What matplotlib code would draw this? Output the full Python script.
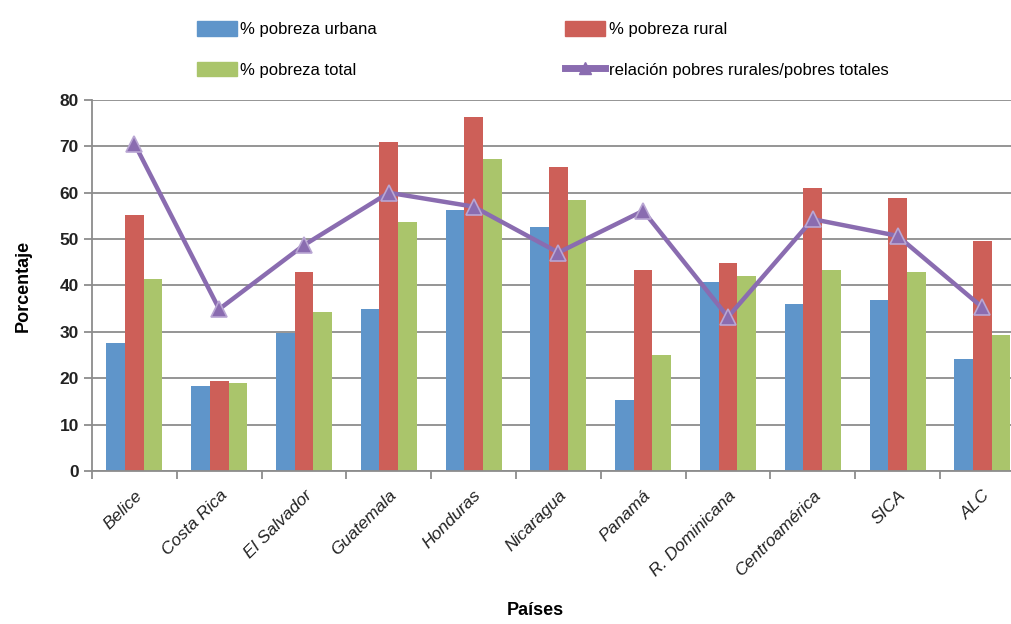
import numpy as np
import matplotlib.pyplot as plt
from matplotlib.patches import Patch
from matplotlib.lines import Line2D

# datos
paises = ["Belice", "Costa Rica", "El Salvador", "Guatemala", "Honduras",
          "Nicaragua", "Panamá", "R. Dominicana", "Centroamérica", "SICA", "ALC"]
urbana = [27.6, 18.4, 29.8, 35.0, 56.2, 52.7, 15.4, 40.8, 36.0, 36.9, 24.2]
rural = [55.3, 19.3, 43.0, 71.0, 76.4, 65.5, 43.4, 44.8, 61.0, 58.8, 49.5]
total = [41.3, 18.9, 34.2, 53.6, 67.3, 58.4, 25.1, 42.1, 43.4, 43.0, 29.4]
relacion = [70.6, 34.9, 48.7, 60.0, 57.0, 47.1, 56.1, 33.2, 54.3, 50.7, 35.3]

c_urb = "#5F95CA"
c_rur = "#CD5F58"
c_tot = "#AAC56B"
c_rel = "#8A6CB0"

plt.rcParams['font.family'] = ['Liberation Sans', 'DejaVu Sans']

fig = plt.figure(figsize=(10.11, 6.24), dpi=100)
ax = fig.add_axes([0.091, 0.2452, 0.9226, 0.5946])

x = np.arange(len(paises))
w = 0.22
ax.bar(x - w, urbana, w, color=c_urb, zorder=2)
ax.bar(x, rural, w, color=c_rur, zorder=2)
ax.bar(x + w, total, w, color=c_tot, zorder=2)
ax.plot(x, relacion, color=c_rel, lw=3.2, marker="^", ms=11,
        mfc=c_rel, mec="#B9A6D3", mew=1.2, zorder=3)

ax.set_xlim(-0.5, len(paises) - 0.5)
ax.set_ylim(0, 80)
ax.set_yticks(range(0, 81, 10))
ax.yaxis.grid(True, color="#8C8C8C", lw=1.3, zorder=0)
ax.set_axisbelow(True)

# marcas entre categorías, etiquetas en el centro
ax.set_xticks(x)
ax.set_xticklabels(paises, rotation=45, ha="right", rotation_mode="anchor",
                   fontstyle="italic", fontsize=12.5, color="#222222")
ax.tick_params(axis="x", which="major", length=0, pad=12)
ax.set_xticks(np.arange(-0.5, len(paises)), minor=True)
ax.tick_params(axis="x", which="minor", length=6, width=1.3, color="#8C8C8C")
ax.tick_params(axis="y", length=6, width=1.3, color="#8C8C8C",
               labelsize=12.5, labelcolor="#222222")
for t in ax.get_yticklabels():
    t.set_fontweight("semibold")

for s in ["top", "right"]:
    ax.spines[s].set_visible(False)
for s in ["left", "bottom"]:
    ax.spines[s].set_color("#8C8C8C")
    ax.spines[s].set_linewidth(1.3)

ax.set_ylabel("Porcentaje", fontsize=13, fontweight="bold", labelpad=20)
ax.set_xlabel("Países", fontsize=13, fontweight="bold")
ax.xaxis.set_label_coords(0.475, -0.352)

handles = [Patch(color=c_urb), Patch(color=c_tot), Patch(color=c_rur),
           Line2D([], [], color=c_rel, lw=5, marker="^", ms=9, mfc=c_rel,
                  mec=c_rel)]
labels = ["% pobreza urbana", "% pobreza total", "% pobreza rural",
          "relación pobres rurales/pobres totales"]
fig.legend(handles, labels, ncol=2, loc="upper left",
           bbox_to_anchor=(0.18, 0.99), frameon=False, fontsize=12,
           handlelength=2.4, handleheight=1.0, handletextpad=0.2,
           columnspacing=11.3, labelspacing=1.45)

fig.savefig("out.png", dpi=100)
